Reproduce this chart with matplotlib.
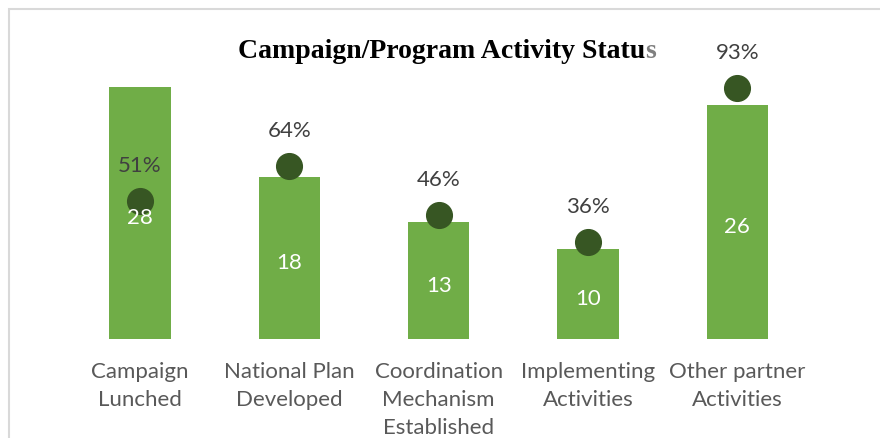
import matplotlib.pyplot as plt
from matplotlib.patches import Rectangle

categories = ["Campaign\nLunched", "National Plan\nDeveloped", "Coordination\nMechanism\nEstablished",
              "Implementing\nActivities", "Other partner\nActivities"]
counts = [28, 18, 13, 10, 26]
shares = [0.51, 0.64, 0.46, 0.36, 0.93]

bar_color = "#70AD47"
dot_color = "#375623"
label_font = "Lato"

fig = plt.figure(figsize=(8.8, 4.39), dpi=100)
ax = fig.add_axes([65.4 / 880, 1 - 340 / 439, (812 - 65.4) / 880, 270 / 439])
x = list(range(len(categories)))
ax.bar(x, counts, width=0.41, color=bar_color, zorder=2)
ax.set_xlim(-0.5, len(categories) - 0.5)
ax.set_ylim(0, 30)
ax.set_yticks([])
for s in ax.spines.values():
    s.set_visible(False)
ax.set_xticks(x)
ax.set_xticklabels(categories, fontsize=16, color="#595959", family=label_font, linespacing=1.5)
ax.tick_params(axis="x", length=0, pad=16)

# percentage on its own 0-100% scale
ax2 = ax.twinx()
ax2.set_ylim(0, 1)
ax2.set_yticks([])
for s in ax2.spines.values():
    s.set_visible(False)
ax2.plot(x, shares, "o", ms=18.5, color=dot_color, zorder=3, linestyle="none")
for i, v in enumerate(shares):
    ax2.annotate(f"{round(v * 100)}%", (i, v), xytext=(0, 26), textcoords="offset points",
                 ha="center", va="center", fontsize=16, color="#404040", family=label_font)

# counts inside the bars, kept above the dots
for i, c in enumerate(counts):
    ax2.annotate(str(c), (i, c / 2), xycoords=ax.transData, xytext=(0, -3),
                 textcoords="offset points", ha="center", va="center",
                 color="white", fontsize=16, family=label_font, zorder=5)

# title, last letter in grey
t = fig.text(238 / 880, 1 - 52 / 439, "Campaign/Program Activity Statu", ha="left", va="center",
             fontsize=20, fontweight="bold", family="Liberation Serif", color="black")
fig.canvas.draw()
ax.annotate("s", xy=(1, 0), xycoords=t, ha="left", va="bottom",
            fontsize=20, fontweight="bold", family="Liberation Serif", color="#7f7f7f",
            annotation_clip=False)

# frame around the chart area
fig.patches.append(Rectangle((9 / 880, -0.1), 1.2, 1 - 10 / 439 + 0.1, transform=fig.transFigure,
                             fill=False, edgecolor="#d9d9d9", linewidth=1.5))

fig.savefig("out.png", dpi=100)
